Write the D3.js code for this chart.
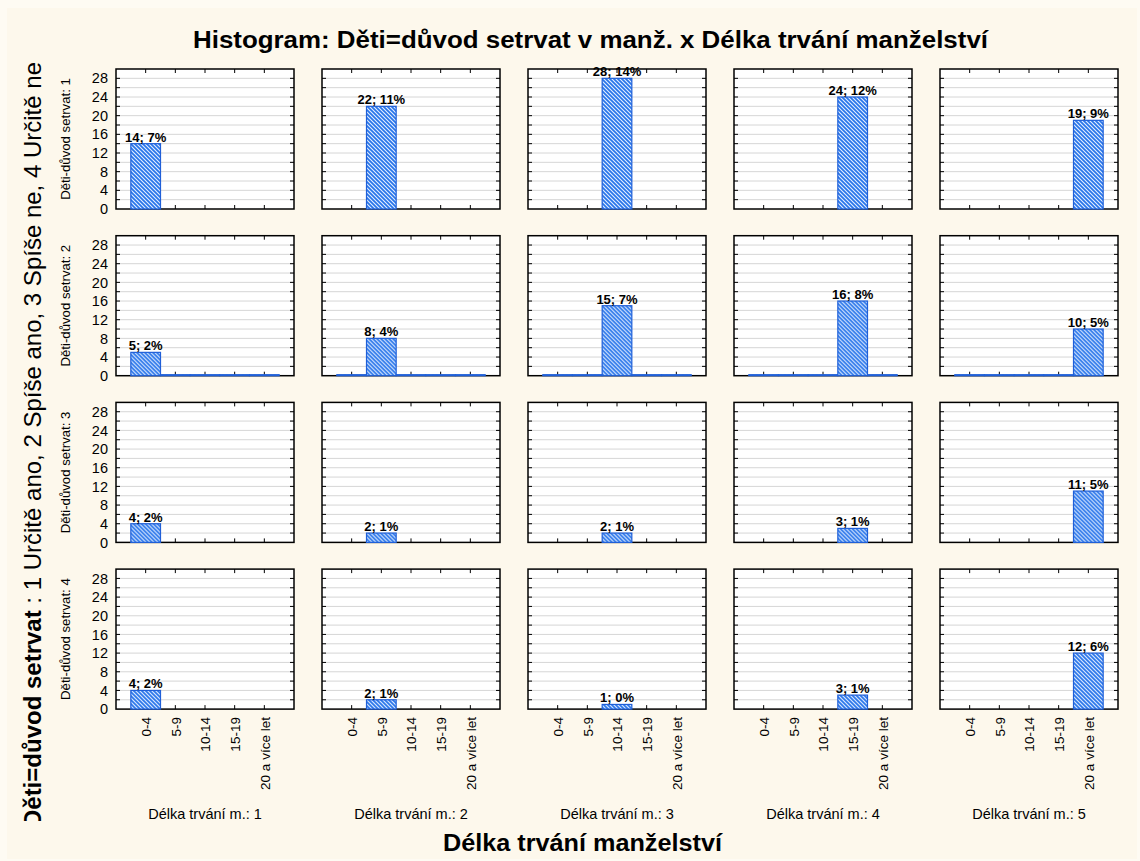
<!DOCTYPE html>
<html>
<head>
<meta charset="utf-8">
<script src="https://cdn.jsdelivr.net/npm/d3@7"></script>
<style>
  html, body { margin: 0; padding: 0; background: #fefbf3; }
  svg { display: block; font-family: "Liberation Sans", Arial, sans-serif; }
</style>
</head>
<body>
<div id="chart"></div>
<script>
// data
const bins = ["0-4", "5-9", "10-14", "15-19", "20 a více let"];
const rowKeys = [1, 2, 3, 4];
const colKeys = [1, 2, 3, 4, 5];
// counts per row (Děti-důvod setrvat) -> column (Délka trvání m.) -> bin ; null = no bar drawn
const countsRow1 = [[14, null, null, null, null], [null, 22, null, null, null], [null, null, 28, null, null], [null, null, null, 24, null], [null, null, null, null, 19]];
const countsRow2 = [[5, 0, 0, 0, 0], [0, 8, 0, 0, 0], [0, 0, 15, 0, 0], [0, 0, 0, 16, 0], [0, 0, 0, 0, 10]];
const countsRow3 = [[4, null, null, null, null], [null, 2, null, null, null], [null, null, 2, null, null], [null, null, null, 3, null], [null, null, null, null, 11]];
const countsRow4 = [[4, null, null, null, null], [null, 2, null, null, null], [null, null, 1, null, null], [null, null, null, 3, null], [null, null, null, null, 12]];
const allCounts = [countsRow1, countsRow2, countsRow3, countsRow4];
const yTickLabels = [0, 4, 8, 12, 16, 20, 24, 28];

const width = 1140, height = 861;
const panelW = 178, panelH = 140;
const left0 = 116, top0 = 69, pitchX = 206, pitchY = 166.7;
const FONT = "'Liberation Sans', Arial, sans-serif";

let total = 0;
allCounts.forEach(r => r.forEach(c => c.forEach(v => { if (v) total += v; })));

const svg = d3.select("#chart").append("svg").attr("width", width).attr("height", height);

// frame
svg.append("rect").attr("x", 7).attr("y", 8).attr("width", width - 10).attr("height", height - 10)
    .attr("fill", "#fdf8ec");

const defs = svg.append("defs");
const pat = defs.append("pattern").attr("id", "hatch").attr("patternUnits", "userSpaceOnUse")
    .attr("width", 4).attr("height", 4);
pat.append("rect").attr("width", 4).attr("height", 4).attr("fill", "#e3eeff");
pat.append("path").attr("d", "M-1,-1 L5,5 M-1,3 L1,5 M3,-1 L5,1")
    .attr("stroke", "#2875ea").attr("stroke-width", 1.7);
defs.append("clipPath").attr("id", "leftClip").append("rect")
    .attr("x", 0).attr("y", 0).attr("width", 60).attr("height", 821);

const x = d3.scalePoint().domain(bins).range([0, panelW]).padding(1);
const y = d3.scaleLinear().domain([0, 30]).range([panelH, 0]);
const barW = x.step();

rowKeys.forEach((rk, ri) => {
    colKeys.forEach((ck, ci) => {
        const g = svg.append("g").attr("transform", `translate(${left0 + ci * pitchX},${top0 + ri * pitchY})`);
        g.append("rect").attr("width", panelW).attr("height", panelH).attr("fill", "#fff");
        // grid
        g.selectAll(".grid").data(d3.range(2, 30, 2)).enter().append("line")
            .attr("x1", 0).attr("x2", panelW).attr("y1", d => y(d)).attr("y2", d => y(d))
            .attr("stroke", "#d6d6d6").attr("stroke-width", 1);
        // minor ticks left/right
        g.selectAll(".tl").data(d3.range(2, 30, 2)).enter().append("line")
            .attr("x1", 0).attr("x2", 4).attr("y1", d => y(d)).attr("y2", d => y(d)).attr("stroke", "#000");
        g.selectAll(".tr").data(d3.range(2, 30, 2)).enter().append("line")
            .attr("x1", panelW - 4).attr("x2", panelW).attr("y1", d => y(d)).attr("y2", d => y(d)).attr("stroke", "#000");
        // top / bottom ticks
        g.selectAll(".tt").data(bins).enter().append("line")
            .attr("x1", d => x(d)).attr("x2", d => x(d)).attr("y1", 0).attr("y2", 4).attr("stroke", "#000");
        g.selectAll(".tb").data(bins).enter().append("line")
            .attr("x1", d => x(d)).attr("x2", d => x(d)).attr("y1", panelH - 4).attr("y2", panelH).attr("stroke", "#000");

        // frame
        g.append("rect").attr("width", panelW).attr("height", panelH).attr("fill", "none")
            .attr("stroke", "#000").attr("stroke-width", 1.5);

        const vals = allCounts[ri][ci];
        const data = bins.map((b, i) => ({ bin: b, v: vals[i] })).filter(d => d.v !== null);
        // zero counts are drawn as a flat bar on the baseline
        g.selectAll(".bar").data(data).enter().append("rect")
            .attr("x", d => x(d.bin) - barW / 2).attr("width", barW)
            .attr("y", d => Math.min(y(d.v), panelH - 1)).attr("height", d => Math.max(panelH - y(d.v), 1))
            .attr("fill", "url(#hatch)").attr("stroke", "#1f5fd8").attr("stroke-width", 1.2);
        g.selectAll(".lab").data(data.filter(d => d.v > 0)).enter().append("text")
            .attr("x", d => x(d.bin)).attr("y", d => y(d.v) - 2)
            .attr("text-anchor", "middle").attr("font-size", 13).attr("font-weight", "bold")
            .text(d => `${d.v}; ${Math.round(d.v / total * 100)}%`);

        if (ci === 0) {
            const ay = g.append("g").call(d3.axisLeft(y).tickValues(yTickLabels).tickSize(0).tickPadding(8));
            ay.select(".domain").remove();
            ay.selectAll("text").attr("font-size", 14.5).attr("font-family", FONT).attr("fill", "#000");
            g.append("text").attr("transform", `translate(-46,${panelH / 2}) rotate(-90)`)
                .attr("text-anchor", "middle").attr("font-size", 13.2).text(`Děti-důvod setrvat: ${rk}`);
        }
        if (ri === rowKeys.length - 1) {
            const ax = g.append("g").attr("transform", `translate(0,${panelH})`)
                .call(d3.axisBottom(x).tickSize(0).tickPadding(0));
            ax.select(".domain").remove();
            ax.selectAll("text").attr("transform", "rotate(-90)").attr("text-anchor", "end")
                .attr("x", -8).attr("y", 0).attr("dy", "0.35em")
                .attr("font-size", 13.5).attr("font-family", FONT).attr("fill", "#000");
            g.append("text").attr("x", panelW / 2).attr("y", panelH + 110)
                .attr("text-anchor", "middle").attr("font-size", 14.5).text(`Délka trvání m.: ${ck}`);
        }
    });
});

svg.append("text").attr("x", 590.5).attr("y", 48).attr("text-anchor", "middle")
    .attr("font-size", 23).attr("font-weight", "bold")
    .attr("textLength", 795).attr("lengthAdjust", "spacingAndGlyphs")
    .text("Histogram: Děti=důvod setrvat v manž. x Délka trvání manželství");
svg.append("text").attr("x", 582.5).attr("y", 851).attr("text-anchor", "middle")
    .attr("font-size", 23).attr("font-weight", "bold")
    .attr("textLength", 279).attr("lengthAdjust", "spacingAndGlyphs")
    .text("Délka trvání manželství");

const lt = svg.append("g").attr("clip-path", "url(#leftClip)").append("text")
    .attr("transform", "translate(41,62) rotate(-90)").attr("text-anchor", "end").attr("font-size", 24);
lt.append("tspan").attr("font-weight", "bold").text("Děti=důvod setrvat");
lt.append("tspan").text(" : 1 Určitě ano, 2 Spíše ano, 3 Spíše ne, 4 Určitě ne");
</script>
</body>
</html>
